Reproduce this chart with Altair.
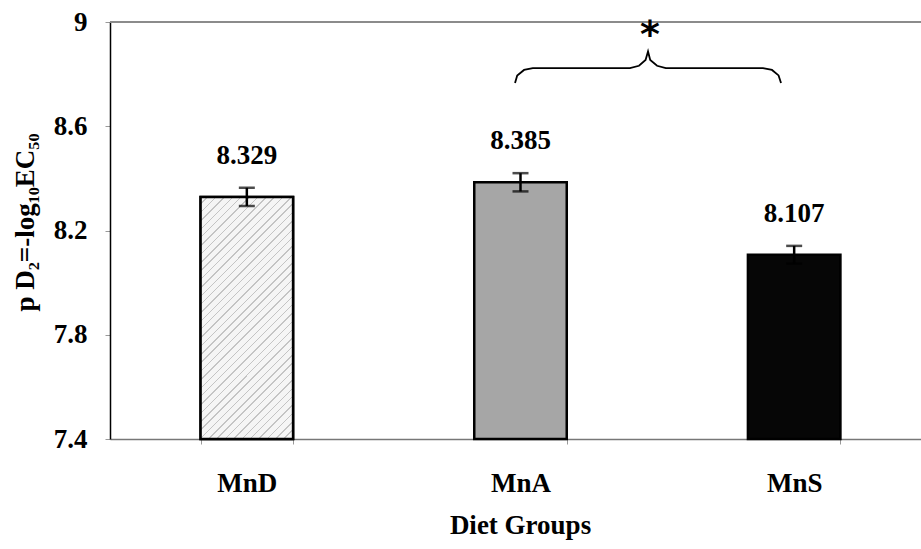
import altair as alt
import pandas as pd

# ---- data ----
groups = ["MnD", "MnA", "MnS"]
means = [8.329, 8.385, 8.107]
errors = [0.035, 0.035, 0.034]
fills = ["#f2f2f2", "#a6a6a6", "#060606"]

y_ticks = [7.4, 7.8, 8.2, 8.6, 9.0]
y_min, y_max = 7.4, 9.0

# significance brace between MnA and MnS (in band units, 0..3) and the star
brace_x = [1.480, 1.488, 1.513, 1.545, 1.900, 1.933, 1.957, 1.966,
           1.974, 1.999, 2.031, 2.386, 2.419, 2.443, 2.452]
brace_y = [8.766, 8.795, 8.816, 8.823, 8.823, 8.832, 8.854, 8.887,
           8.854, 8.832, 8.823, 8.823, 8.816, 8.795, 8.766]
star_x = [1.973]
star_y = [8.905]
star_text = ["*"]

df = pd.DataFrame({"group": groups, "mean": means, "err": errors})
brace_df = pd.DataFrame({"bx": brace_x, "by": brace_y, "order": list(range(len(brace_x)))})
star_df = pd.DataFrame({"sx": star_x, "sy": star_y, "t": star_text})

FONT = '"Liberation Serif", "Times New Roman", serif'
X_RANGE = [0, 821]

# diagonal hatching for the MnD bar (style only)
n_stripes = 40
stops = []
for i in range(n_stripes):
    a = i / n_stripes
    b = a + 0.0195
    c = a + 0.0240
    stops += [
        alt.GradientStop(color="#f5f5f5", offset=a),
        alt.GradientStop(color="#f5f5f5", offset=b),
        alt.GradientStop(color="#c4c4c4", offset=b),
        alt.GradientStop(color="#c4c4c4", offset=c),
        alt.GradientStop(color="#f5f5f5", offset=c),
    ]
stops.append(alt.GradientStop(color="#f5f5f5", offset=1))
hatch = alt.LinearGradient(gradient="linear", stops=stops, x1=0, y1=0, x2=0.461, y2=1.206)

x_enc = alt.X(
    "group:N",
    sort=groups,
    scale=alt.Scale(domain=groups, range=X_RANGE, paddingInner=0.662, paddingOuter=0.331),
    axis=alt.Axis(
        title="Diet Groups",
        labelAngle=0,
        labelFont=FONT, labelFontSize=27, labelFontWeight="bold", labelColor="black",
        labelPadding=26,
        tickBand="extent", tickColor="#999999", tickSize=5,
        domainColor="#777777", domainWidth=1.5,
        titleFont=FONT, titleFontSize=27, titleFontWeight="bold", titleColor="black",
        titleX=410, titleY=94, titleBaseline="alphabetic", titleAlign="center",
    ),
)
y_scale = alt.Scale(domain=[y_min, y_max], nice=False, zero=False)
y_enc = alt.Y(
    "mean:Q",
    scale=y_scale,
    axis=alt.Axis(
        title="p D₂=-log₁₀EC₅₀",
        values=y_ticks, format=".1~f",
        labelFont=FONT, labelFontSize=27, labelFontWeight="bold", labelColor="black",
        labelPadding=18,
        tickColor="#999999", tickSize=5,
        domainColor="black", domainWidth=1.5,
        grid=False,
        titleFont=FONT, titleFontSize=27, titleFontWeight="bold", titleColor="black",
        titleAngle=-90, titleX=-77, titleY=200, titleBaseline="alphabetic", titleAlign="center",
    ),
)

base = alt.Chart(df)

bars = base.mark_bar(stroke="black", strokeWidth=2.5).encode(
    x=x_enc,
    y=y_enc,
    y2=alt.datum(y_min),
    fill=alt.Fill("group:N", scale=alt.Scale(domain=groups, range=fills), legend=None),
)

hatched = base.transform_filter(alt.datum.group == "MnD").mark_bar(
    fill=hatch, stroke="black", strokeWidth=2.5
).encode(x=alt.X("group:N", sort=groups), y=alt.Y("mean:Q"), y2=alt.datum(y_min))

err_rule = base.transform_calculate(
    lo="datum.mean - datum.err", hi="datum.mean + datum.err"
).mark_rule(color="black", strokeWidth=2.5).encode(
    x=alt.X("group:N", sort=groups), y=alt.Y("lo:Q"), y2="hi:Q"
)
err_top = base.transform_calculate(hi="datum.mean + datum.err").mark_tick(
    color="black", thickness=2.5, size=16
).encode(x=alt.X("group:N", sort=groups), y=alt.Y("hi:Q"))
err_bot = base.transform_calculate(lo="datum.mean - datum.err").mark_tick(
    color="black", thickness=2.5, size=16
).encode(x=alt.X("group:N", sort=groups), y=alt.Y("lo:Q"))

labels = base.mark_text(
    dy=-41, baseline="middle", align="center",
    font=FONT, fontSize=27, fontWeight="bold", color="black",
).encode(x=alt.X("group:N", sort=groups), y=alt.Y("mean:Q"), text=alt.Text("mean:Q", format=".3f"))

top_line = alt.Chart(df).mark_rule(color="#8a8a8a", strokeWidth=1.5).encode(y=alt.datum(y_max))

bar_layer = alt.layer(bars, hatched, err_rule, err_top, err_bot, labels, top_line)

bx_scale = alt.Scale(domain=[0, 3], range=X_RANGE, nice=False, zero=False)
brace = alt.Chart(brace_df).mark_line(color="black", strokeWidth=1.8).encode(
    x=alt.X("bx:Q", scale=bx_scale, axis=None),
    y=alt.Y("by:Q", scale=y_scale),
    order="order:Q",
)
star = alt.Chart(star_df).mark_text(
    font="DejaVu Sans", fontSize=38, fontWeight="bold", color="black", baseline="alphabetic"
).encode(
    x=alt.X("sx:Q", scale=bx_scale, axis=None),
    y=alt.Y("sy:Q", scale=y_scale),
    text="t:N",
)
annot = alt.layer(brace, star)

chart = alt.layer(bar_layer, annot).resolve_scale(x="independent").properties(
    width=811, height=417,
    autosize=alt.AutoSizeParams(type="none"),
    padding={"left": 110, "top": 22, "right": 0, "bottom": 110},
    background="white",
).configure_view(stroke=None)

chart.save("out.html", embed_options={"renderer": "svg", "actions": False})
